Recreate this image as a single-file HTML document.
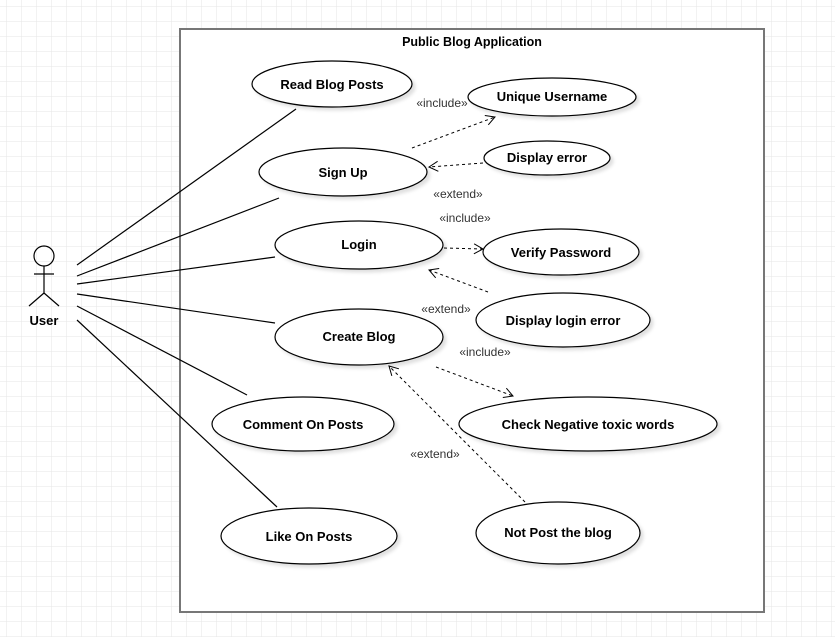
<!DOCTYPE html>
<html><head><meta charset="utf-8"><style>
html,body{margin:0;padding:0;background:#fff}
svg{display:block}
text{font-family:"Liberation Sans",Arial,sans-serif;font-size:13px;fill:#000}
.b{font-weight:bold;text-anchor:middle}
.s{font-size:12px;fill:#333;text-anchor:middle}
</style></head><body>
<svg width="835" height="637" viewBox="0 0 835 637" xmlns="http://www.w3.org/2000/svg">
<defs>
<pattern id="g" x="7" y="7" width="15" height="15" patternUnits="userSpaceOnUse">
<path d="M15 0V15M0 15H15" fill="none" stroke="#e6e6e6" stroke-width="1"/>
</pattern>
<marker id="a" markerWidth="12" markerHeight="12" refX="10" refY="6" orient="auto" markerUnits="userSpaceOnUse">
<path d="M1 1L10 6L1 11" fill="none" stroke="#000" stroke-width="1"/>
</marker>
<filter id="sh" x="-10%" y="-10%" width="130%" height="140%"><feDropShadow dx="3" dy="3" stdDeviation="1.5" flood-color="#000" flood-opacity="0.12"/></filter>
</defs>
<rect width="835" height="637" fill="url(#g)"/>
<rect x="180" y="29" width="584" height="583" fill="#fff" stroke="#777" stroke-width="2"/>
<text x="472" y="46" class="b" style="font-size:12.5px">Public Blog Application</text>

<g stroke="#000" stroke-width="1.2" fill="none">
<circle cx="44" cy="256" r="10"/>
<line x1="44" y1="266" x2="44" y2="293"/>
<line x1="34" y1="274" x2="54" y2="274"/>
<line x1="44" y1="293" x2="29" y2="306"/>
<line x1="44" y1="293" x2="59" y2="306"/>
<line x1="77" y1="265" x2="296" y2="109"/>
<line x1="77" y1="276" x2="279" y2="198"/>
<line x1="77" y1="284" x2="275" y2="257"/>
<line x1="77" y1="294" x2="275" y2="323"/>
<line x1="77" y1="306" x2="247" y2="395"/>
<line x1="77" y1="320" x2="277" y2="507"/>
</g>
<text x="44" y="325" class="b">User</text>

<g fill="#fff" stroke="#000" stroke-width="1.2" filter="url(#sh)">
<ellipse cx="332" cy="84" rx="80" ry="23"/>
<ellipse cx="552" cy="97" rx="84" ry="19"/>
<ellipse cx="343" cy="172" rx="84" ry="24"/>
<ellipse cx="547" cy="158" rx="63" ry="17"/>
<ellipse cx="359" cy="245" rx="84" ry="24"/>
<ellipse cx="561" cy="252" rx="78" ry="23"/>
<ellipse cx="563" cy="320" rx="87" ry="27"/>
<ellipse cx="359" cy="337" rx="84" ry="28"/>
<ellipse cx="588" cy="424" rx="129" ry="27"/>
<ellipse cx="303" cy="424" rx="91" ry="27"/>
<ellipse cx="309" cy="536" rx="88" ry="28"/>
<ellipse cx="558" cy="533" rx="82" ry="31"/>
</g>
<text x="332" y="89" class="b">Read Blog Posts</text>
<text x="552" y="101" class="b">Unique Username</text>
<text x="343" y="177" class="b">Sign Up</text>
<text x="547" y="162" class="b">Display error</text>
<text x="359" y="249" class="b">Login</text>
<text x="561" y="257" class="b">Verify Password</text>
<text x="563" y="325" class="b">Display login error</text>
<text x="359" y="341" class="b">Create Blog</text>
<text x="588" y="429" class="b">Check Negative toxic words</text>
<text x="303" y="429" class="b">Comment On Posts</text>
<text x="309" y="541" class="b">Like On Posts</text>
<text x="558" y="537" class="b">Not Post the blog</text>

<g stroke="#000" stroke-width="1" fill="none" stroke-dasharray="3,3" marker-end="url(#a)">
<line x1="412" y1="148" x2="495" y2="117"/>
<line x1="483" y1="163" x2="429" y2="167"/>
<line x1="444" y1="248" x2="483" y2="249"/>
<line x1="488" y1="292" x2="429" y2="270"/>
<line x1="436" y1="367" x2="513" y2="396"/>
<line x1="525" y1="502" x2="389" y2="366"/>
</g>
<text x="442" y="107" class="s">«include»</text>
<text x="458" y="198" class="s">«extend»</text>
<text x="465" y="222" class="s">«include»</text>
<text x="446" y="313" class="s">«extend»</text>
<text x="485" y="356" class="s">«include»</text>
<text x="435" y="458" class="s">«extend»</text>
</svg>
</body></html>
